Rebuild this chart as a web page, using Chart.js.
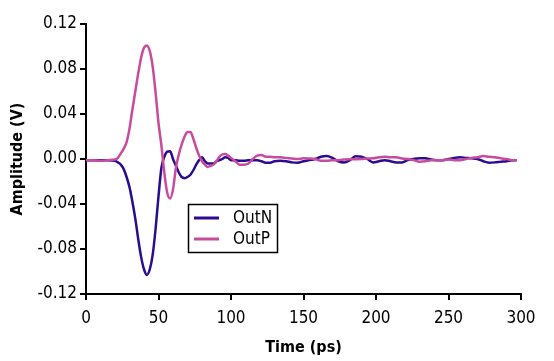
<!DOCTYPE html>
<html>
<head>
<meta charset="utf-8">
<script src="https://cdn.jsdelivr.net/npm/chart.js@4.4.1/dist/chart.umd.min.js"></script>
<style>
  html, body { margin: 0; padding: 0; background: #ffffff; }
  canvas { display: block; }
</style>
</head>
<body>
<canvas id="c" width="554" height="361"></canvas>
<script>
const timePs = [0, 5, 10, 15, 20, 22, 24, 26, 28, 30, 32, 34, 36, 38, 40, 42, 44, 46, 48, 50,
  52, 54, 56, 58, 60, 62, 64, 66, 68, 70, 72, 74, 76, 78, 80, 82, 84, 86, 88, 90,
  92, 94, 96, 98, 100, 103, 106, 109, 112, 115, 118, 121, 124, 127, 130, 134, 138, 142, 146, 150,
  154, 158, 162, 166, 170, 174, 178, 182, 186, 190, 194, 198, 202, 206, 210, 214, 218, 222, 226, 230,
  234, 238, 242, 246, 250, 254, 258, 262, 266, 270, 274, 278, 282, 286, 290, 294, 297];

const outN = [-0.001, -0.001, -0.001, -0.001, -0.0015, -0.003, -0.005, -0.009, -0.016, -0.025,
  -0.038, -0.053, -0.071, -0.087, -0.098, -0.103, -0.098, -0.085, -0.062, -0.033,
  -0.008, 0.002, 0.0065, 0.007, 0.000, -0.006, -0.012, -0.016, -0.017, -0.016,
  -0.014, -0.010, -0.005, -0.001, 0.0015, -0.002, -0.004, -0.004, -0.004, -0.002,
  -0.001, 0, 0.0015, 0.001, -0.001, -0.001, -0.0015, -0.0015, -0.001, -0.001,
  -0.001, -0.002, -0.0033, -0.0033, -0.002, -0.0015, -0.002, -0.003, -0.0033, -0.002,
  -0.001, 0, 0.002, 0.0027, 0.001, -0.002, -0.003, -0.001, 0.0025, 0.002,
  0, -0.003, -0.002, -0.001, -0.002, -0.003, -0.003, -0.001, 0, 0.0006,
  0.0006, -0.0005, -0.001, -0.001, 0, 0.001, 0.0015, 0.001, 0.0006, 0,
  -0.002, -0.0033, -0.003, -0.0024, -0.002, -0.001, -0.001];

const outP = [-0.001, -0.001, -0.0015, -0.001, -0.0005, 0.001, 0.005, 0.009, 0.015, 0.027,
  0.044, 0.060, 0.076, 0.090, 0.099, 0.101, 0.096, 0.082, 0.059, 0.032,
  0.012, -0.012, -0.030, -0.035, -0.027, -0.008, 0.004, 0.013, 0.020, 0.024,
  0.024, 0.018, 0.010, 0.003, -0.002, -0.005, -0.007, -0.006, -0.005, -0.002,
  0.002, 0.004, 0.0045, 0.003, 0.001, -0.002, -0.005, -0.005, -0.004, 0,
  0.003, 0.0035, 0.002, 0.002, 0.0015, 0.0015, 0.001, 0.0005, 0, 0.0006,
  0.0005, 0, -0.0015, -0.0015, -0.001, -0.001, -0.0005, -0.0003, -0.0003, 0,
  0.0005, 0.0006, 0.0015, 0.002, 0.0015, 0.0015, 0.0005, 0, -0.001, -0.0024,
  -0.002, -0.001, -0.001, -0.001, -0.0005, -0.001, -0.001, 0, 0.001, 0.0015,
  0.0027, 0.002, 0.0015, 0.0006, 0, -0.001, -0.001];

const seriesNames = ['OutN', 'OutP'];
const seriesColors = ['#2b0b8f', '#c84b9e'];
const xTicks = [0, 50, 100, 150, 200, 250, 300];
const yTicks = [-0.12, -0.08, -0.04, 0.00, 0.04, 0.08, 0.12];
const xTitle = 'Time (ps)';
const yTitle = 'Amplitude (V)';

const FONT = "'DejaVu Sans Condensed', 'Liberation Sans Narrow', 'Liberation Sans', Arial, sans-serif";

function pts(ys) { return timePs.map((t, i) => ({ x: t, y: ys[i] })); }

const boxLegend = {
  id: 'boxLegend',
  afterDraw(chart) {
    const ctx = chart.ctx;
    ctx.save();
    ctx.strokeStyle = '#000';
    ctx.lineWidth = 1.5;
    ctx.strokeRect(188.5, 204.5, 89, 48);
    const rows = [218, 239];
    seriesNames.forEach((name, i) => {
      ctx.strokeStyle = seriesColors[i];
      ctx.lineWidth = 3;
      ctx.beginPath();
      ctx.moveTo(194, rows[i]);
      ctx.lineTo(219, rows[i]);
      ctx.stroke();
      ctx.fillStyle = '#000';
      ctx.font = '17px ' + FONT;
      ctx.textBaseline = 'middle';
      ctx.textAlign = 'left';
      ctx.fillText(name, 233, rows[i] + 1);
    });
    ctx.restore();
  }
};

new Chart(document.getElementById('c'), {
  type: 'line',
  data: {
    datasets: [
      { label: seriesNames[0], data: pts(outN), borderColor: seriesColors[0], borderWidth: 2.5,
        pointRadius: 0, fill: false, cubicInterpolationMode: 'monotone', order: 1 },
      { label: seriesNames[1], data: pts(outP), borderColor: seriesColors[1], borderWidth: 2.5,
        pointRadius: 0, fill: false, cubicInterpolationMode: 'monotone', order: 0 }
    ]
  },
  options: {
    responsive: false,
    devicePixelRatio: 1,
    animation: false,
    layout: { padding: { top: 24, right: 33, bottom: 0, left: 0 } },
    plugins: { legend: { display: false }, tooltip: { enabled: false } },
    scales: {
      x: {
        type: 'linear', min: 0, max: 300,
        afterFit(s) { s.height = 67; },
        afterBuildTicks(s) { s.ticks = xTicks.map(v => ({ value: v })); },
        ticks: { color: '#000', font: { family: FONT, size: 17 }, padding: 8, maxRotation: 0,
          callback: v => String(v) },
        grid: { drawOnChartArea: false, color: '#000', tickLength: 6, lineWidth: 2 },
        border: { color: '#000', width: 2 },
        title: { display: true, text: xTitle, color: '#000',
          font: { family: FONT, size: 16, weight: 'bold' }, padding: { top: 1 } }
      },
      y: {
        type: 'linear', min: -0.12, max: 0.12,
        afterFit(s) { s.width = 86; },
        afterBuildTicks(s) { s.ticks = yTicks.map(v => ({ value: v })); },
        ticks: { color: '#000', font: { family: FONT, size: 17 }, padding: 3,
          callback: v => v.toFixed(2) },
        grid: { drawOnChartArea: false, color: '#000', tickLength: 6, lineWidth: 2 },
        border: { color: '#000', width: 2 },
        title: { display: true, text: yTitle, color: '#000',
          font: { family: FONT, size: 16, weight: 'bold' }, padding: { top: 8 } }
      }
    }
  },
  plugins: [boxLegend]
});
</script>
</body>
</html>
